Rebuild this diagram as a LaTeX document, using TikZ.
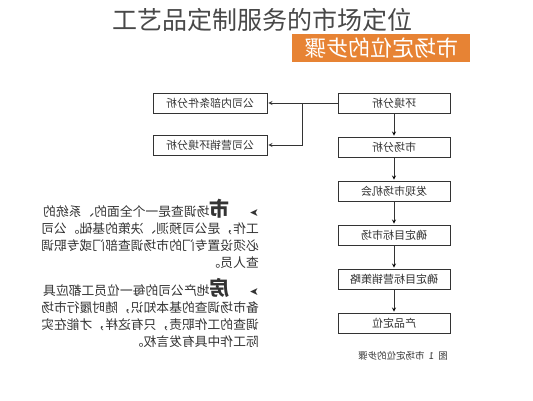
\documentclass[tikz,border=0pt]{standalone}
\usepackage{fontspec}
\setmainfont{Noto Sans CJK SC}
\newfontfamily\dingfont{DejaVu Sans}
\usetikzlibrary{arrows,positioning,calc}
\definecolor{banner}{RGB}{231,131,52}
\definecolor{ink}{RGB}{51,51,51}
\definecolor{titleink}{RGB}{72,72,72}
\newcommand{\mir}[1]{\reflectbox{#1}}

\begin{document}
\begin{tikzpicture}[x=1pt,y=1pt,>=stealth,shorten >=1pt,node distance=44pt,on grid,
  stepbox/.style={draw=ink,line width=0.9pt,minimum width=112pt,minimum height=20pt,
    inner sep=0pt,text=ink,font=\fontsize{11}{13}\selectfont},
  sidebox/.style={stepbox,minimum width=114pt},
  textblock/.style={anchor=north east,inner sep=0pt,text=ink}]
  \useasboundingbox (0,0) rectangle (533,400);

  \node[text=titleink,font=\fontsize{25}{28}\selectfont] (title) at (262,380) {工艺品定制服务的市场定位};
  \node[fill=banner,minimum width=178pt,minimum height=28pt,inner sep=0pt,text=white,
    font=\fontsize{22}{24}\selectfont] (banner) at (381,352) {\mir{市场定位的步骤}};

  \node[stepbox] (env) at (394,297) {\mir{环境分析}};
  \node[stepbox] (mkt)    [below=of env]    {\mir{市场分析}};
  \node[stepbox] (chance) [below=of mkt]    {\mir{发现市场机会}};
  \node[stepbox] (target) [below=of chance] {\mir{确定目标市场}};
  \node[stepbox] (plan)   [below=of target] {\mir{确定目标营销策略}};
  \node[stepbox] (pos)    [below=of plan]   {\mir{产品定位}};
  \node[sidebox] (inner)  [left=184pt of env]   {\mir{公司内部条件分析}};
  \node[sidebox] (outer)  [below=42pt of inner] {\mir{公司营销环境分析}};
  \coordinate (split) at ($(env.west)!.5!(inner.east)$);

  \path[->,draw=ink,line width=0.8pt]
    (env) edge (mkt)
    (mkt) edge (chance)
    (chance) edge (target)
    (target) edge (plan)
    (plan) edge (pos);
  \draw[->,ink,line width=0.8pt] (env.west) -- (inner.east);
  \draw[->,ink,line width=0.8pt] (split) |- (outer.east);

  \node[textblock] (para1) at (259,201) {\mir{\fontsize{12.8}{17}\selectfont
    \begin{tabular}{@{}l@{}}
    {\dingfont\fontsize{11}{11}\selectfont ➤}\hspace{20pt}{\fontsize{20}{20}\selectfont\bfseries 市}场调查是一个全面的、系统的\\
    工作，是公司预测、决策的基础。公司\\
    必须设置专门的市场调查部门或专职调\\
    查人员。
    \end{tabular}}};
  \node[textblock] (para2) at (259,122) {\mir{\fontsize{12.8}{17}\selectfont
    \begin{tabular}{@{}l@{}}
    {\dingfont\fontsize{11}{11}\selectfont ➤}\hspace{20pt}{\fontsize{20}{20}\selectfont\bfseries 房}地产公司的每一位员工都应具\\
    备市场调查的基本知识，随时履行市场\\
    调查的工作职责，只有这样，才能在实\\
    际工作中具有发言权。
    \end{tabular}}};

  \node[text=ink,font=\fontsize{9.5}{11}\selectfont] (caption) at (403,44) {\mir{图\ \ 1\ \ 市场定位的步骤}};
\end{tikzpicture}
\end{document}
